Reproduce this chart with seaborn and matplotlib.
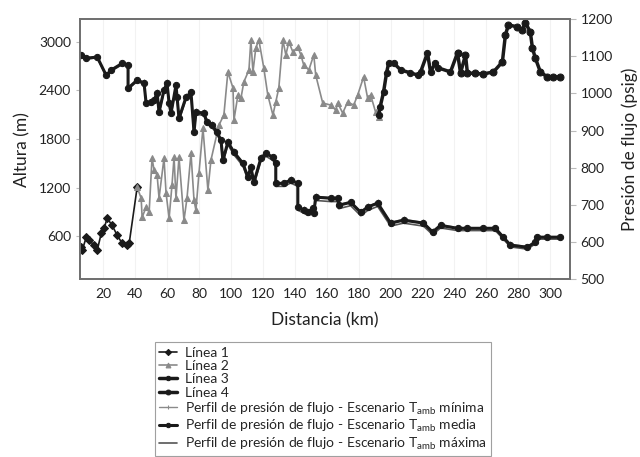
import numpy as np
import pandas as pd
import matplotlib
matplotlib.use("Agg")
import matplotlib.pyplot as plt
import seaborn as sns

# altura de las líneas (km, m)
km_l1 = [6.0, 6.9, 9.4, 11.3, 14.4, 16.3, 18.8, 20.6, 22.5, 25.6, 28.8, 31.9, 35.0, 36.3, 41.3]
alt_l1 = [464, 427, 588, 550, 489, 427, 637, 699, 823, 736, 612, 513, 489, 513, 1206]

km_l2 = [41.3, 43.8, 44.4, 46.9, 48.8, 50.6, 51.9, 53.8, 55.0, 58.1, 59.4, 61.3, 63.1, 64.4,
         65.6, 67.5, 70.6, 72.5, 75.0, 76.9, 78.1, 80.0, 82.5, 85.6, 87.5, 92.5, 95.6, 98.1,
         101.3, 101.9, 104.4, 106.3, 108.1, 111.3, 112.5, 113.8, 115.6, 117.5, 120.6, 123.1,
         126.3, 128.1, 130.0, 132.5, 134.4, 136.3, 138.8, 141.9, 143.8, 145.6, 148.8, 151.9,
         153.1, 157.5, 162.5, 165.6, 166.9, 170.0, 173.1, 176.9, 179.4, 183.1, 185.6, 187.5,
         190.6, 192.5]
alt_l2 = [1206, 1070, 835, 959, 897, 1565, 1416, 1355, 1070, 1565, 1132, 823, 1231, 1577,
          1070, 1577, 798, 1070, 1627, 1045, 922, 1379, 1936, 1169, 1540, 1973, 2097, 2629,
          2431, 2035, 2344, 2307, 2505, 2653, 3024, 2629, 2926, 3024, 2678, 2344,
          2097, 2257, 2431, 3024, 2839, 2999, 2876, 2938, 2839, 2715, 2653, 2839,
          2591, 2245, 2220, 2159, 2245, 2121, 2257, 2220, 2344, 2567, 2307, 2344,
          2134, 2072]

km_l3 = [192.5, 193.5, 195.6, 197.5, 198.8, 201.9, 206.3, 212.0, 216.9, 218.8, 223.1, 225.0,
         228.1, 230.0, 237.5, 241.9]
alt_l3 = [2097, 2200, 2381, 2620, 2740, 2740, 2653, 2620, 2591, 2629, 2864, 2629,
          2740, 2678, 2629, 2864]

km_l4 = [241.9, 243.8, 246.9, 248.1, 253.0, 258.1, 264.4, 270.0, 271.9, 273.8, 279.4, 282.5,
         284.4, 287.5, 288.8, 290.6, 293.8, 298.1, 302.0, 306.3]
alt_l4 = [2864, 2616, 2839, 2616, 2610, 2604, 2629, 2752, 3086, 3210, 3185, 3148,
          3235, 3123, 2926, 2802, 2629, 2567, 2567, 2567]

# perfil de presión de flujo (km, psig)
km_p = [6.3, 9.4, 16.3, 21.9, 25.0, 31.9, 35.6, 35.6, 41.3, 45.6, 46.9, 50.0, 51.9, 53.8,
        55.0, 58.1, 60.0, 61.3, 62.5, 65.6, 66.3, 67.5, 71.9, 75.0, 76.9, 78.1, 83.1, 85.0,
        88.1, 91.3, 93.8, 95.0, 98.1, 101.9, 107.5, 110.6, 112.5, 114.4, 118.8, 121.9, 126.3,
        128.1, 128.1, 133.1, 137.5, 141.9, 141.9, 145.6, 148.1, 151.3, 151.9, 153.1, 162.5,
        166.9, 167.5, 175.0, 181.3, 185.6, 191.9, 200.0, 208.1, 220.6, 226.3, 231.3, 241.9,
        248.1, 258.1, 265.6, 270.6, 275.0, 285.6, 290.6, 291.9, 298.1, 306.3]
p_min = [1104, 1096, 1099, 1051, 1064, 1082, 1077, 1016, 1037, 1030, 976, 978, 984, 1003,
         952, 1011, 1030, 976, 949, 1024, 992, 935, 992, 1005, 898, 952, 949, 925,
         917, 898, 876, 822, 871, 844, 814, 777, 804, 763, 828, 841, 830,
         814, 760, 760, 769, 760, 696, 688, 682, 693, 680, 723, 720,
         720, 701, 709, 682, 696, 707, 653, 661, 653, 629, 647, 639,
         639, 639, 639, 615, 594, 588, 602, 615, 615, 615]
p_media = [1103, 1095, 1098, 1049, 1063, 1081, 1076, 1014, 1036, 1028, 974, 976, 982, 1001,
           950, 1009, 1028, 974, 947, 1022, 990, 933, 990, 1003, 896, 950, 947, 923,
           915, 896, 874, 820, 869, 842, 812, 775, 802, 761, 826, 839, 828,
           812, 758, 758, 767, 758, 694, 686, 680, 691, 678, 721, 718,
           718, 699, 707, 680, 694, 705, 651, 659, 651, 627, 645, 637,
           637, 637, 637, 613, 592, 586, 600, 613, 613, 613]
p_max = [1101, 1093, 1096, 1047, 1060, 1078, 1073, 1011, 1033, 1025, 970, 972, 978, 997,
         946, 1005, 1024, 970, 943, 1017, 985, 928, 985, 998, 890, 944, 941, 917,
         909, 890, 868, 814, 862, 835, 805, 768, 795, 754, 818, 831, 820,
         804, 750, 750, 759, 750, 686, 678, 672, 683, 670, 712, 709,
         709, 690, 698, 671, 685, 696, 643, 651, 643, 620, 638, 631,
         631, 631, 631, 608, 587, 581, 595, 608, 608, 608]

sns.set_style("white")
plt.rcParams["font.family"] = ["Lato", "DejaVu Sans"]

fig = plt.figure(figsize=(6.4, 4.57), dpi=100)
ax = fig.add_axes([0.125, 0.389, 0.766, 0.569])
ax2 = ax.twinx()

gris = "#8a8a8a"
negro = "#1a1a1a"

ax.grid(axis="x", color="#f2f2f2", lw=0.8)
ax.set_axisbelow(True)

sns.lineplot(x=km_p, y=p_max, ax=ax2, color="#555555", lw=1.2, sort=False,
             estimator=None, label="Perfil de presión de flujo - Escenario T$_{\\mathregular{amb}}$ máxima")
sns.lineplot(x=km_p, y=p_min, ax=ax2, color=gris, lw=1.0, marker="+", ms=5, mec=gris,
             sort=False, estimator=None,
             label="Perfil de presión de flujo - Escenario T$_{\\mathregular{amb}}$ mínima")
sns.lineplot(x=km_p, y=p_media, ax=ax2, color=negro, lw=2.2, marker="o", ms=4.5,
             mec=negro, sort=False, estimator=None,
             label="Perfil de presión de flujo - Escenario T$_{\\mathregular{amb}}$ media")

sns.lineplot(x=km_l1, y=alt_l1, ax=ax, color=negro, lw=1.2, marker="D", ms=4.5,
             mec=negro, sort=False, estimator=None, label="Línea 1")
sns.lineplot(x=km_l2, y=alt_l2, ax=ax, color=gris, lw=1.2, marker="^", ms=5,
             mec=gris, sort=False, estimator=None, label="Línea 2")
sns.lineplot(x=km_l3, y=alt_l3, ax=ax, color=negro, lw=2.5, marker="o", ms=4.5,
             mec=negro, sort=False, estimator=None, label="Línea 3")
sns.lineplot(x=km_l4, y=alt_l4, ax=ax, color=negro, lw=2.5, marker="o", ms=5,
             mec=negro, sort=False, estimator=None, label="Línea 4")

ax.set_xlim(5.5, 312.5)
ax.set_ylim(70, 3280)
ax2.set_ylim(500, 1200)
ax.set_xticks(range(20, 301, 20))
ax.set_yticks([600, 1200, 1800, 2400, 3000])
ax2.set_yticks(range(500, 1201, 100))

ax.set_xlabel("Distancia (km)", fontsize=12.5, color="#222222", labelpad=9)
ax.set_ylabel("Altura (m)", fontsize=12.5, color="#222222", labelpad=6)
ax2.set_ylabel("Presión de flujo (psig)", fontsize=12.5, color="#222222", labelpad=6)

for a in (ax, ax2):
    a.tick_params(labelsize=10, colors="#222222", length=3, color="#bbbbbb")
    for s in a.spines.values():
        s.set_color("#707070")
        s.set_linewidth(1.3)
ax2.tick_params(axis="y", length=4, color="#bbbbbb")

h1, l1 = ax.get_legend_handles_labels()
h2, l2 = ax2.get_legend_handles_labels()
ax.get_legend().remove()
ax2.get_legend().remove()
orden = [1, 2, 0]  # mínima, media, máxima
handles = h1 + [h2[i] for i in orden]
labels = l1 + [l2[i] for i in orden]
leg = fig.legend(handles, labels, loc="upper left", bbox_to_anchor=(0.231, 0.266),
                 fontsize=10, frameon=True, fancybox=False, edgecolor="#888888",
                 labelspacing=0.1, handlelength=1.3, handletextpad=0.6,
                 borderpad=0.3, markerscale=0.7)
leg.get_frame().set_linewidth(0.8)

fig.savefig("out.png", dpi=100)
